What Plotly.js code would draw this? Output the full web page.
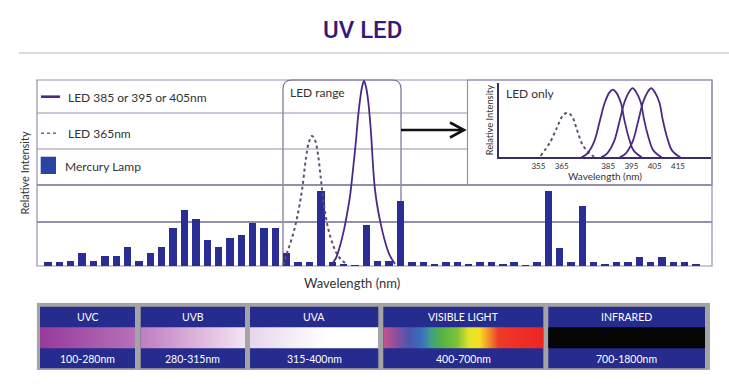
<!DOCTYPE html>
<html><head><meta charset="utf-8">
<script src="https://cdn.plot.ly/plotly-3.0.1.min.js"></script>
<style>html,body{margin:0;padding:0;background:#fff}#chart{width:729px;height:388px}</style>
</head><body><div id="chart"></div>
<script>
// ---------- DATA ----------
const lampHeights = [2.3,2.3,2.8,6.8,2.8,5.4,5.4,10.4,2.8,6.8,
  10.4,20.6,30.1,25.3,14.1,10.4,15.2,16.5,23.0,20.6,
  20.6,6.8,2.3,2.3,40.5,2.3,1.3,0.6,22.0,2.7,
  2.7,35.1,2.3,2.3,1.3,2.3,2.3,1.3,2.3,2.3,
  1.3,2.3,0.6,2.3,40.1,9.8,2.3,32.4,2.3,1.3,
  2.3,2.3,5.0,2.3,5.0,2.3,2.3,1.1];
const lampIndex = lampHeights.map((_, i) => i + 1);

const ledMainX = [25.89,26.33,26.68,27.03,27.30,27.56,27.82,28.09,28.26,28.44,28.62,28.79,28.97,29.15,29.32,29.45,29.58,29.76,30.02,30.38,30.73,31.08,31.52];
const ledMainY = [0.5,4.3,10.8,19.4,28.0,37.6,51.6,67.7,79.6,89.2,96.2,99.5,96.2,89.2,78.5,67.7,54.3,40.9,30.1,19.4,11.3,5.4,1.1];
const led365MainX = [21.67,22.02,22.46,22.90,23.34,23.69,23.95,24.22,24.48,24.75,25.01,25.27,25.63,26.07,26.51,27.22];
const led365MainY = [0.5,7.0,15.1,25.8,40.9,58.1,66.7,69.9,67.7,59.7,46.2,32.8,20.4,11.3,5.4,1.1];

const inset365X = [356,360,363,365.5,367.5,369.5,371.5,374,377,379.5];
const inset365Y = [2,20,40,56,60,55,38,17,5,0];
const inset385X = [373.5,376,379,381.5,383.5,385.5,387,388.5,390.5,392,394,396,399.5];
const inset385Y = [0,5,21,50,73,87,91,87,73,50,25,9,0];
const inset395X = [382,384.5,387.5,390,392,394,395.5,397,399,400.5,402.5,404.5,408];
const inset395Y = [0,5,21,50,74,88,93,88,74,50,25,9,0];
const inset405X = [390,392.5,395.5,398,400,402,403.5,405,407,408.5,410.5,412.5,416];
const inset405Y = [0,5,21,50,74,88,93,88,74,50,25,9,0];
const insetTicks = [355,365,385,395,405,415];

const legendLabels = ['LED 385 or 395 or 405nm','LED 365nm','Mercury Lamp'];
const bandNames = ['UVC','UVB','UVA','VISIBLE LIGHT','INFRARED'];
const bandRanges = ['100-280nm','280-315nm','315-400nm','400-700nm','700-1800nm'];

// ---------- LAYOUT HELPERS (pixel -> paper) ----------
const W = 729, H = 388;
const px = x => x / W;
const py = y => 1 - y / H;

const gridColor = '#958fae';
const purple = '#4a2a82';
const dotColor = '#5a536f';
const barColor = '#2a2d93';
const navy = '#262b8e';
const font = 'Lato, "Open Sans", sans-serif';

// main plot frame (pixels)
const plotL = 37, plotR = 712, plotT = 80, plotB = 266, insetL = 467.5;
const fullGrid = [23.66, 43.55];      // gridlines spanning the whole plot
const partGrid = [62.9, 82.26];       // gridlines stopping at the inset box

// bottom band panel geometry (pixels)
const panelL = [40, 140.7, 250, 383.3, 548.3];
const panelR = [135, 245, 378.3, 543.3, 705];
const bandScales = [
  [[0,'#973a9b'],[1,'#b671b8']],
  [[0,'#c07cc0'],[1,'#f3e4f2']],
  [[0,'#e6d6ec'],[0.6,'#ffffff'],[1,'#ffffff']],
  [[0,'#c8528e'],[0.08,'#8a4f9e'],[0.16,'#4a55ad'],[0.24,'#3b6fbf'],[0.3,'#3f9f8a'],[0.36,'#52b043'],[0.46,'#7cc23a'],[0.54,'#e6e625'],[0.6,'#f5e020'],[0.66,'#f0902a'],[0.72,'#ee3a2a'],[1,'#ee2424']],
  [[0,'#050505'],[1,'#050505']]
];

const traces = [
  {type:'bar', x: lampIndex, y: lampHeights, name: legendLabels[2], width: 0.65,
   marker:{color: barColor, line:{width:0}}, hoverinfo:'skip', xaxis:'x', yaxis:'y'},
  {type:'scatter', mode:'lines', x: led365MainX, y: led365MainY, name: legendLabels[1],
   line:{color: dotColor, width: 2, dash:'dot', shape:'spline'}, hoverinfo:'skip'},
  {type:'scatter', mode:'lines', x: ledMainX, y: ledMainY, name: legendLabels[0],
   line:{color: purple, width: 1.8, shape:'spline'}, hoverinfo:'skip'},
  {type:'scatter', mode:'lines', x: inset365X, y: inset365Y, xaxis:'x2', yaxis:'y2',
   line:{color: dotColor, width: 2, dash:'dot', shape:'spline'}, hoverinfo:'skip'},
  {type:'scatter', mode:'lines', x: inset385X, y: inset385Y, xaxis:'x2', yaxis:'y2',
   line:{color: purple, width: 1.8, shape:'spline'}, hoverinfo:'skip'},
  {type:'scatter', mode:'lines', x: inset395X, y: inset395Y, xaxis:'x2', yaxis:'y2',
   line:{color: purple, width: 1.8, shape:'spline'}, hoverinfo:'skip'},
  {type:'scatter', mode:'lines', x: inset405X, y: inset405Y, xaxis:'x2', yaxis:'y2',
   line:{color: purple, width: 1.8, shape:'spline'}, hoverinfo:'skip'}
];

// gradient strips in bottom panel (axis x3/y3 in pixel units)
const stripTop = 327.3, stripBot = 348.3;
bandNames.forEach((n, i) => {
  traces.push({type:'scatter', mode:'lines', xaxis:'x3', yaxis:'y3',
    x:[panelL[i], panelR[i], panelR[i], panelL[i], panelL[i]],
    y:[stripTop, stripTop, stripBot, stripBot, stripTop],
    fill:'toself', fillcolor: bandScales[i][0][1],
    fillgradient:{type:'horizontal', colorscale: bandScales[i]},
    line:{width:0}, hoverinfo:'skip'});
});

const shapes = [
  // rule under title
  {type:'line', xref:'paper', yref:'paper', x0:px(19), x1:px(729), y0:py(53), y1:py(53), line:{color:'#dcdcdc', width:2}},
  // plot border
  {type:'rect', xref:'x domain', yref:'y domain', x0:0, x1:1, y0:0, y1:1, line:{color:gridColor, width:1.2}, layer:'below'},
  // inset box
  {type:'rect', xref:'paper', yref:'paper', x0:px(insetL), x1:px(plotR), y0:py(185), y1:py(plotT), line:{color:gridColor, width:1.2}, layer:'below'},
  // LED range box (rounded top)
  {type:'path', xref:'paper', yref:'paper', layer:'below', line:{color:'#77708f', width:1.2},
   path:`M${px(283)},${py(266)} L${px(283)},${py(89)} Q${px(283)},${py(80)} ${px(292)},${py(80)} L${px(392)},${py(80)} Q${px(401)},${py(80)} ${px(401)},${py(89)} L${px(401)},${py(266)}`},
  // arrow
  {type:'path', xref:'paper', yref:'paper', layer:'above', line:{color:'#111', width:2.6},
   path:`M${px(401)},${py(130)} L${px(463)},${py(130)} M${px(450)},${py(122.5)} L${px(464)},${py(130)} L${px(450)},${py(137.5)}`},
  // legend samples
  {type:'line', xref:'paper', yref:'paper', x0:px(41), x1:px(60), y0:py(96.7), y1:py(96.7), line:{color:'#4b2a8c', width:2.6}},
  {type:'line', xref:'paper', yref:'paper', x0:px(41), x1:px(58), y0:py(133.3), y1:py(133.3), line:{color:'#6f6985', width:1.5, dash:'dot'}},
  {type:'rect', xref:'paper', yref:'paper', x0:px(40.7), x1:px(56), y0:py(174), y1:py(156.7), fillcolor:'#2b43a3', line:{width:0}},
  // bottom band container
  {type:'rect', xref:'x3', yref:'y3', x0:36.7, x1:710, y0:302.7, y1:370, fillcolor:'#a4a4a4', line:{width:0}, layer:'below'}
];
partGrid.forEach(v => {
  shapes.push({type:'line', xref:'x domain', yref:'y', x0:0, x1:(insetL - plotL) / (plotR - plotL), y0:v, y1:v,
    line:{color:gridColor, width:1.2}, layer:'below'});
});
bandNames.forEach((n, i) => {
  shapes.push({type:'rect', xref:'x3', yref:'y3', x0:panelL[i], x1:panelR[i], y0:306.7, y1:368.3, fillcolor:navy, line:{width:0}, layer:'below'});
});

const annotations = [
  {text:'UV LED', xref:'paper', yref:'paper', x:px(362), y:py(30), showarrow:false, xanchor:'center', yanchor:'middle',
   font:{family:'Roboto, Lato, sans-serif', size:24, color:'#34197a', weight:500}},
  {text:'Wavelength (nm)', xref:'paper', yref:'paper', x:px(352), y:py(283), showarrow:false, xanchor:'center', yanchor:'middle', font:{size:13, color:'#333'}},
  {text: legendLabels[0], xref:'paper', yref:'paper', x:px(66), y:py(97), showarrow:false, xanchor:'left', yanchor:'middle', font:{size:12, color:'#333'}},
  {text: legendLabels[1], xref:'paper', yref:'paper', x:px(66), y:py(133.5), showarrow:false, xanchor:'left', yanchor:'middle', font:{size:12, color:'#333'}},
  {text: legendLabels[2], xref:'paper', yref:'paper', x:px(63), y:py(166.5), showarrow:false, xanchor:'left', yanchor:'middle', font:{size:12, color:'#333'}},
  {text:'LED range', xref:'paper', yref:'paper', x:px(288), y:py(92), showarrow:false, xanchor:'left', yanchor:'middle', font:{size:12, color:'#333'}},
  {text:'LED only', xref:'paper', yref:'paper', x:px(504), y:py(93), showarrow:false, xanchor:'left', yanchor:'middle', font:{size:12, color:'#333'}}
];
bandNames.forEach((n, i) => {
  const cx = (panelL[i] + panelR[i]) / 2;
  annotations.push({text:n, xref:'x3', yref:'y3', x:cx, y:316.8, showarrow:false, xanchor:'center', yanchor:'middle', font:{size:10.5, color:'#ffffff'}});
  annotations.push({text:bandRanges[i], xref:'x3', yref:'y3', x:cx, y:358.8, showarrow:false, xanchor:'center', yanchor:'middle', font:{size:10.5, color:'#ffffff'}});
});

const layout = {
  width: W, height: H,
  margin:{l:0, r:0, t:0, b:0, pad:0},
  paper_bgcolor:'#ffffff', plot_bgcolor:'rgba(0,0,0,0)',
  font:{family: font, color:'#333'},
  showlegend:false,
  bargap:0,
  xaxis:{domain:[px(plotL), px(plotR)], range:[0.03, 59.4], showgrid:false, zeroline:false, showticklabels:false, ticks:'', showline:false, fixedrange:true},
  yaxis:{domain:[py(plotB), py(plotT)], range:[0, 100], tickvals: fullGrid, showgrid:true, gridcolor:gridColor, gridwidth:1.2,
    zeroline:false, showticklabels:false, ticks:'', showline:false, fixedrange:true,
    title:{text:'Relative Intensity', font:{size:11, color:'#333'}, standoff:4}},
  xaxis2:{domain:[px(499), px(711)], range:[338.1, 429.2], anchor:'y2', tickvals: insetTicks, ticks:'', showgrid:false, zeroline:false,
    showline:true, linecolor:'#3b2d63', linewidth:1.6, tickfont:{size:8, color:'#333'}, fixedrange:true,
    title:{text:'Wavelength (nm)', font:{size:10, color:'#333'}, standoff:2}},
  yaxis2:{domain:[py(157.3), py(83)], range:[0, 100], anchor:'x2', showticklabels:false, ticks:'', showgrid:false, zeroline:false,
    showline:true, linecolor:'#3b2d63', linewidth:1.6, fixedrange:true,
    title:{text:'Relative Intensity', font:{size:9.3, color:'#333'}, standoff:2}},
  xaxis3:{domain:[px(36.7), px(710)], range:[36.7, 710], anchor:'y3', visible:false, fixedrange:true},
  yaxis3:{domain:[py(370), py(302.7)], range:[370, 302.7], anchor:'x3', visible:false, fixedrange:true},
  shapes: shapes,
  annotations: annotations
};

Plotly.newPlot('chart', traces, layout, {displayModeBar:false, staticPlot:true});
</script></body></html>
